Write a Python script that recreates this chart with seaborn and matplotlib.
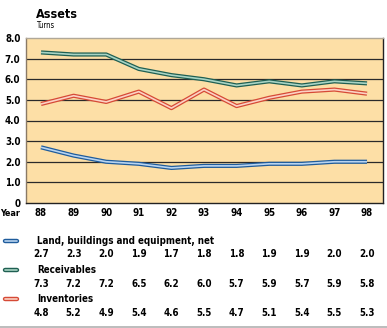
import matplotlib
matplotlib.use("Agg")
import matplotlib.pyplot as plt
import seaborn as sns
import pandas as pd
from matplotlib.lines import Line2D
import matplotlib.transforms as mtransforms

years = [88, 89, 90, 91, 92, 93, 94, 95, 96, 97, 98]
land = [2.7, 2.3, 2.0, 1.9, 1.7, 1.8, 1.8, 1.9, 1.9, 2.0, 2.0]
receivables = [7.3, 7.2, 7.2, 6.5, 6.2, 6.0, 5.7, 5.9, 5.7, 5.9, 5.8]
inventories = [4.8, 5.2, 4.9, 5.4, 4.6, 5.5, 4.7, 5.1, 5.4, 5.5, 5.3]
series_names = ["Land, buildings and equipment, net", "Receivables", "Inventories"]
yticks = [0, 1, 2, 3, 4, 5, 6, 7, 8]
ytick_labels = ["0", "1.0", "2.0", "3.0", "4.0", "5.0", "6.0", "7.0", "8.0"]

sns.set_theme(style="white")
FONT = ["DejaVu Sans"]
plt.rcParams["font.family"] = FONT
plt.rcParams["font.stretch"] = "condensed"
plt.rcParams["text.color"] = "black"
plt.rcParams["ytick.color"] = "black"

outer = ["#1f5c9c", "#1f5f52", "#d64a36"]
inner = ["#b8d4f0", "#a8d4c4", "#fcd2c4"]
series = [land, receivables, inventories]

fig = plt.figure(figsize=(3.87, 3.28), dpi=100)
ax = fig.add_axes([26/387, 1-203/328, (383-26)/387, (203-38)/328])
ax.set_facecolor("#fddfa6")

for i, vals in enumerate(series):
    df = pd.DataFrame({"year": years, "value": vals})
    sns.lineplot(data=df, x="year", y="value", ax=ax, color=outer[i], lw=3.0,
                 solid_joinstyle="round", solid_capstyle="butt", zorder=3)
    sns.lineplot(data=df, x="year", y="value", ax=ax, color=inner[i], lw=1.2,
                 solid_joinstyle="round", solid_capstyle="butt", zorder=4)

ax.set_xlim(87.54, 98.49)
ax.set_ylim(0, 8)
for v in range(1, 8):
    ax.axhline(v, color="#2a2a2a", lw=0.9, zorder=1)
ax.set_yticks(yticks)
ax.set_yticklabels(ytick_labels, fontsize=7, fontweight="bold", fontstretch="condensed")
ax.tick_params(axis="y", length=0, pad=4)
ax.set_xticks([])
ax.set_xlabel("")
ax.set_ylabel("")
ax.spines["top"].set_color("#b0a898")
ax.spines["left"].set_color("#8a7a66")
ax.spines["right"].set_color("#222222")
ax.spines["bottom"].set_color("#222222")
for s in ax.spines.values():
    s.set_linewidth(1.0)

def yfig(py):
    return 1 - py/328

TXT = dict(fontweight="bold", fontstretch="condensed")

fig.text(36/387, yfig(14), "Assets", fontsize=9, va="center", ha="left", **TXT)
fig.text(36/387, yfig(26), "Turns", fontsize=5.5, va="center", ha="left", fontstretch="condensed")

blend = mtransforms.blended_transform_factory(ax.transData, fig.transFigure)
fig.text(10/387, yfig(213), "Year", fontsize=6.5, va="center", ha="center", **TXT)
for yr in years:
    fig.text(yr, yfig(213), str(yr), transform=blend, fontsize=7,
             va="center", ha="center", **TXT)

label_y = [241, 270, 299]
value_y = [254, 284, 313]
for i, vals in enumerate(series):
    fig.text(37/387, yfig(label_y[i]), series_names[i], fontsize=7,
             va="center", ha="left", **TXT)
    for yr, v in zip(years, vals):
        fig.text(yr, yfig(value_y[i]), f"{v:.1f}", transform=blend, fontsize=7,
                 va="center", ha="center", **TXT)
    fig.add_artist(Line2D([5/387, 17/387], [yfig(label_y[i])]*2, color=outer[i], lw=3.2,
                          solid_capstyle="round", transform=fig.transFigure))
    fig.add_artist(Line2D([5/387, 17/387], [yfig(label_y[i])]*2, color=inner[i], lw=1.2,
                          solid_capstyle="round", transform=fig.transFigure))

fig.add_artist(Line2D([0, 1], [yfig(326.5)]*2, color="#b0b0b0", lw=1.2, transform=fig.transFigure))

fig.savefig("out.png", dpi=100)
